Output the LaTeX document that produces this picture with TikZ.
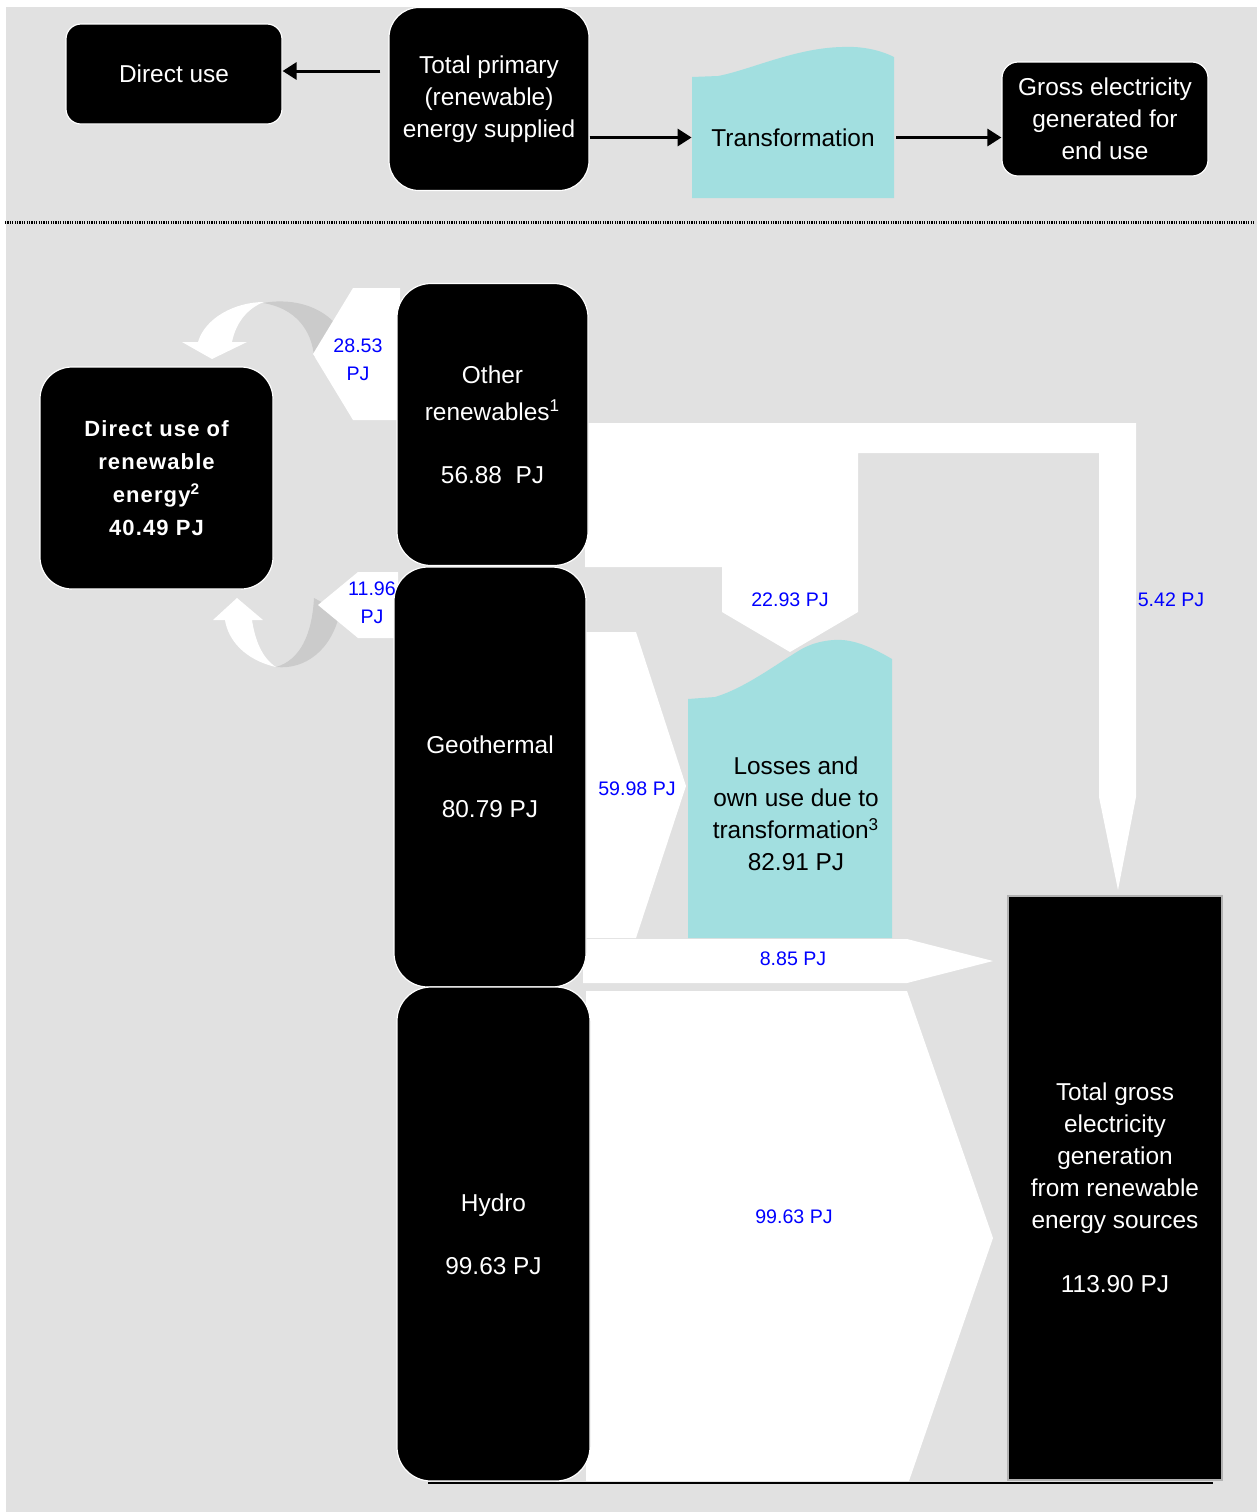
\documentclass[tikz,border=0pt]{standalone}
\usepackage{fontspec}
\setmainfont{Liberation Sans}
\newfontfamily\spacedfont[LetterSpace=5]{Liberation Sans}
\usetikzlibrary{arrows.meta}
\definecolor{bggray}{HTML}{E1E1E1}
\definecolor{ribbongray}{HTML}{CBCBCB}
\definecolor{lossblue}{HTML}{A2DFE0}
\definecolor{pjblue}{HTML}{0000FF}
\begin{document}
\begin{tikzpicture}[x=0.5pt,y=-0.5pt,
	every node/.style={font=\fontsize{12.2}{16}\selectfont,align=center,inner sep=0pt},
	blackbox/.style={draw=white,line width=0.6pt,fill=black,text=white,rounded corners=#1},
	blackbox/.default=8pt,
	flow/.style={fill=white},
	pj/.style={text=pjblue,font=\fontsize{9.8}{14}\selectfont},
	arr/.style={line width=1.5pt,-{Triangle[length=7pt,width=8.5pt]}}]
\useasboundingbox (0,0) rectangle (1257,1512);
\fill[bggray] (6,7) rectangle (1257,1512);
\draw[line width=1.5pt,dash pattern=on 0.6pt off 0.6pt] (5,222) -- (1254,222);
% key
\fill[lossblue] (692,198) -- (692,77) -- (718,76) .. controls (750,70) and (795,48) .. (842,47)
	.. controls (862,46) and (880,50) .. (894,57) -- (894,198) -- cycle;
\node[blackbox=7.5pt,minimum width=108pt,minimum height=50pt] (direct) at (174,74) {Direct use};
\node[blackbox=15pt,minimum width=100pt,minimum height=91.5pt] (primary) at (489,99)
	{Total primary\\(renewable)\\energy supplied};
\node[minimum width=101pt,minimum height=60.5pt] (trans) at (793,137.5) {Transformation};
\node[blackbox=8pt,minimum width=103pt,minimum height=57pt] (gross) at (1105,119)
	{Gross electricity\\generated for\\end use};
\draw[arr] ([xshift=-4pt,yshift=1.5pt]primary.west |- direct.east) -- ([yshift=1.5pt]direct.east);
\draw[arr] (primary.east |- trans.west) -- (trans.west);
\draw[arr] ([xshift=1pt]trans.east) -- (trans.east -| gross.west);
% curved arrows to direct use
\fill[ribbongray] (263,303) .. controls (295,297) and (328,308) .. (342,333) -- (314,357)
	.. controls (312,330) and (295,308) .. (263,303) -- cycle;
\fill[white] (264,302) .. controls (235,302) and (205,318) .. (198,342) -- (182,342) -- (212,359)
	-- (247,342) -- (232,342) .. controls (236,322) and (248,308) .. (264,302) -- cycle;
\fill[ribbongray] (276,667) .. controls (305,670) and (332,650) .. (340,612) -- (314,598)
	.. controls (312,635) and (300,660) .. (276,667) -- cycle;
\fill[white] (276,667) .. controls (245,660) and (228,640) .. (225,620) -- (213,620) -- (237,598)
	-- (263,620) -- (252,620) .. controls (255,640) and (262,658) .. (276,667) -- cycle;
% flows
\fill[flow] (400,288) -- (353,288) -- (313,354) -- (353,420) -- (400,420) -- cycle;
\fill[flow] (398,572) -- (358,572) -- (318,605) -- (358,638) -- (398,638) -- cycle;
\fill[flow] (585,423) -- (1136,423) -- (1136,797) -- (1118,890) -- (1099,797) -- (1099,453)
	-- (858,453) -- (858,612) -- (790,652) -- (722,612) -- (722,567) -- (585,567) -- cycle;
\fill[flow] (583,632) -- (636,632) -- (686,786) -- (636,938) -- (583,938) -- cycle;
\fill[flow] (583,939) -- (907,939) -- (993,961) -- (907,983) -- (583,983) -- cycle;
\fill[flow] (586,991) -- (907,991) -- (993,1238) -- (909,1481) -- (586,1481) -- cycle;
\fill[lossblue] (688,938) -- (688,699) -- (715,697) .. controls (745,688) and (775,665) .. (800,650)
	.. controls (815,641) and (835,638) .. (850,641) .. controls (865,644) and (880,652) .. (892,659)
	-- (892,938) -- cycle;
\draw[line width=0.7pt] (428,1483) -- (1213,1483);
% boxes
\node[blackbox=17pt,minimum width=95.5pt,minimum height=141pt] (other) at (492.5,424.5)
	{Other\\[2.5pt]renewables\textsuperscript{1}\\[15.5pt]56.88~~PJ};
\node[blackbox=17pt,minimum width=96pt,minimum height=210pt] (geo) at (490,777)
	{Geothermal\\[16pt]80.79 PJ};
\node[blackbox=17pt,minimum width=96.5pt,minimum height=247pt] (hydro) at (493.5,1234)
	{Hydro\\[15.5pt]99.63 PJ};
\node[fill=black,draw=gray!60,line width=0.6pt,text=white,minimum width=107pt,minimum height=292pt]
	(total) at (1115,1188)
	{Total gross\\electricity\\generation\\from renewable\\energy sources\\[16pt]113.90 PJ};
\node[blackbox=16pt,minimum width=116.5pt,minimum height=111pt,
	font=\spacedfont\bfseries\fontsize{11}{16.5}\selectfont] (duse) at (156.5,478)
	{Direct use of\\renewable\\energy\textsuperscript{2}\\40.49 PJ};
\node (losses) at (796,814) {Losses and\\own use due to\\transformation\textsuperscript{3}\\82.91 PJ};
% labels
\node[pj] (l2853) at (358,360) {28.53\\PJ};
\node[pj] (l1196) at (372,603) {11.96\\PJ};
\node[pj] (l2293) at (790,600) {22.93 PJ};
\node[pj] (l542) at (1171,600) {5.42 PJ};
\node[pj] (l5998) at (637,789) {59.98 PJ};
\node[pj] (l885) at (793,959) {8.85 PJ};
\node[pj] (l9963) at (794,1217) {99.63 PJ};
\end{tikzpicture}
\end{document}
